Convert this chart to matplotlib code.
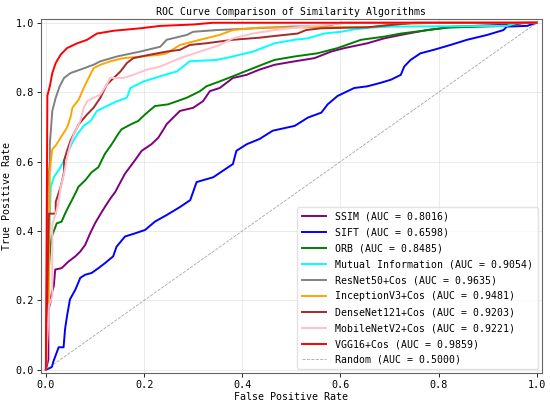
import matplotlib
matplotlib.use("Agg")
import matplotlib.pyplot as plt

plt.rcParams['font.family'] = ['DejaVu Sans Mono']
plt.rcParams['font.size'] = 7

# ---- data ----
ssim_fpr = [0, 0.005, 0.005, 0.009, 0.012, 0.016, 0.019, 0.032, 0.046, 0.06, 0.07, 0.08, 0.09, 0.1, 0.11, 0.12,
            0.131, 0.141, 0.161, 0.181, 0.195, 0.215, 0.229, 0.242, 0.246, 0.273, 0.30, 0.32, 0.334, 0.354, 0.381,
            0.409, 0.435, 0.466, 0.507, 0.547, 0.581, 0.608, 0.655, 0.689, 0.723, 0.776, 0.804, 0.831, 0.95, 0.98, 1.0]
ssim_tpr = [0, 0.03, 0.174, 0.193, 0.222, 0.241, 0.289, 0.293, 0.312, 0.327, 0.341, 0.36, 0.393, 0.422, 0.446, 0.469,
            0.493, 0.512, 0.565, 0.603, 0.631, 0.65, 0.669, 0.698, 0.708, 0.746, 0.755, 0.774, 0.803, 0.812, 0.841,
            0.85, 0.865, 0.879, 0.889, 0.898, 0.917, 0.927, 0.941, 0.955, 0.965, 0.979, 0.984, 0.989, 0.995, 1.0, 1.0]

sift_fpr = [0, 0.012, 0.016, 0.026, 0.036, 0.039, 0.043, 0.049, 0.06, 0.07, 0.08, 0.093, 0.107, 0.12, 0.137, 0.144,
            0.161, 0.181, 0.202, 0.222, 0.246, 0.273, 0.294, 0.307, 0.341, 0.361, 0.381, 0.388, 0.409, 0.435, 0.462,
            0.507, 0.534, 0.561, 0.574, 0.594, 0.628, 0.655, 0.682, 0.703, 0.723, 0.73, 0.743, 0.763, 0.79, 0.824,
            0.858, 0.899, 0.932, 0.939, 0.98, 1.0]
sift_tpr = [0, 0.008, 0.027, 0.065, 0.065, 0.117, 0.155, 0.203, 0.231, 0.265, 0.274, 0.279, 0.293, 0.307, 0.327, 0.355,
            0.384, 0.393, 0.403, 0.427, 0.446, 0.469, 0.489, 0.541, 0.555, 0.574, 0.593, 0.631, 0.65, 0.665, 0.689,
            0.703, 0.727, 0.741, 0.765, 0.789, 0.812, 0.817, 0.827, 0.836, 0.85, 0.874, 0.893, 0.912, 0.922, 0.936,
            0.951, 0.965, 0.979, 0.989, 0.991, 1.0]

orb_fpr = [0, 0.004, 0.009, 0.012, 0.022, 0.032, 0.039, 0.046, 0.053, 0.063, 0.066, 0.08, 0.093, 0.107, 0.12, 0.134,
           0.147, 0.154, 0.174, 0.188, 0.202, 0.222, 0.249, 0.287, 0.314, 0.327, 0.354, 0.381, 0.415, 0.449, 0.466,
           0.507, 0.553, 0.594, 0.642, 0.689, 0.723, 0.763, 0.817, 0.939, 0.97, 1.0]
orb_tpr = [0, 0.25, 0.355, 0.384, 0.422, 0.427, 0.45, 0.47, 0.489, 0.517, 0.527, 0.546, 0.569, 0.584, 0.622, 0.65,
           0.679, 0.693, 0.708, 0.717, 0.736, 0.76, 0.765, 0.784, 0.803, 0.817, 0.831, 0.846, 0.865, 0.884, 0.893,
           0.903, 0.912, 0.927, 0.951, 0.96, 0.969, 0.976, 0.986, 0.991, 1.0, 1.0]

mi_fpr = [0, 0.008, 0.01, 0.016, 0.03, 0.043, 0.054, 0.064, 0.077, 0.091, 0.104, 0.124, 0.145, 0.165, 0.172, 0.199,
          0.233, 0.267, 0.293, 0.348, 0.381, 0.422, 0.466, 0.507, 0.533, 0.567, 0.601, 0.628, 0.662, 0.709, 0.939,
          0.96, 1.0]
mi_tpr = [0, 0.45, 0.527, 0.555, 0.584, 0.622, 0.655, 0.679, 0.703, 0.717, 0.746, 0.76, 0.774, 0.784, 0.812, 0.831,
          0.846, 0.86, 0.889, 0.893, 0.903, 0.917, 0.941, 0.951, 0.955, 0.969, 0.974, 0.981, 0.986, 0.989, 0.991,
          1.0, 1.0]

resnet_fpr = [0, 0.004, 0.008, 0.008, 0.013, 0.02, 0.028, 0.037, 0.05, 0.07, 0.097, 0.111, 0.145, 0.192, 0.233,
              0.246, 0.287, 0.30, 0.348, 0.50, 0.57, 0.60, 1.0]
resnet_tpr = [0, 0.53, 0.6, 0.65, 0.746, 0.784, 0.817, 0.841, 0.855, 0.865, 0.879, 0.889, 0.903, 0.917, 0.931,
              0.951, 0.965, 0.974, 0.979, 0.989, 0.99, 1.0, 1.0]

incep_fpr = [0, 0.006, 0.008, 0.01, 0.013, 0.02, 0.03, 0.043, 0.05, 0.054, 0.067, 0.077, 0.087, 0.097, 0.111, 0.131,
             0.158, 0.233, 0.246, 0.273, 0.314, 0.354, 0.381, 0.435, 0.668, 0.70, 0.80, 1.0]
incep_tpr = [0, 0.23, 0.57, 0.60, 0.636, 0.646, 0.669, 0.698, 0.727, 0.755, 0.779, 0.812, 0.841, 0.869, 0.879, 0.889,
             0.898, 0.908, 0.912, 0.936, 0.951, 0.965, 0.979, 0.986, 0.988, 0.995, 1.0, 1.0]

dense_fpr = [0, 0.006, 0.02, 0.02, 0.026, 0.03, 0.037, 0.037, 0.043, 0.05, 0.057, 0.067, 0.084, 0.097, 0.111, 0.124,
             0.138, 0.152, 0.165, 0.178, 0.212, 0.246, 0.273, 0.293, 0.327, 0.381, 0.435, 0.466, 0.513, 0.53, 0.56,
             0.655, 0.75, 1.0]
dense_tpr = [0, 0.45, 0.45, 0.484, 0.51, 0.527, 0.57, 0.603, 0.631, 0.66, 0.68, 0.708, 0.736, 0.755, 0.784, 0.822,
             0.841, 0.86, 0.884, 0.898, 0.908, 0.917, 0.922, 0.936, 0.941, 0.951, 0.957, 0.962, 0.969, 0.979, 0.984,
             0.987, 1.0, 1.0]

mobile_fpr = [0, 0.006, 0.013, 0.013, 0.02, 0.026, 0.03, 0.037, 0.043, 0.05, 0.057, 0.07, 0.077, 0.084, 0.097, 0.111,
              0.124, 0.131, 0.158, 0.178, 0.206, 0.233, 0.273, 0.314, 0.354, 0.381, 0.422, 0.466, 0.52, 0.62, 1.0]
mobile_tpr = [0, 0.184, 0.212, 0.42, 0.45, 0.484, 0.527, 0.565, 0.612, 0.651, 0.679, 0.717, 0.755, 0.774, 0.784, 0.793,
              0.822, 0.841, 0.841, 0.85, 0.865, 0.874, 0.898, 0.917, 0.936, 0.955, 0.969, 0.979, 0.988, 1.0, 1.0]

vgg_fpr = [0, 0.003, 0.008, 0.013, 0.02, 0.03, 0.043, 0.064, 0.084, 0.104, 0.138, 0.192, 0.233, 0.30, 0.34, 1.0]
vgg_tpr = [0, 0.79, 0.817, 0.855, 0.884, 0.908, 0.927, 0.941, 0.951, 0.969, 0.977, 0.984, 0.991, 0.995, 1.0, 1.0]

names = ["SSIM", "SIFT", "ORB", "Mutual Information", "ResNet50+Cos", "InceptionV3+Cos",
         "DenseNet121+Cos", "MobileNetV2+Cos", "VGG16+Cos"]
aucs = [0.8016, 0.6598, 0.8485, 0.9054, 0.9635, 0.9481, 0.9203, 0.9221, 0.9859]
colors = ["purple", "blue", "green", "cyan", "gray", "orange", "brown", "pink", "red"]
curves = [(ssim_fpr, ssim_tpr), (sift_fpr, sift_tpr), (orb_fpr, orb_tpr), (mi_fpr, mi_tpr),
          (resnet_fpr, resnet_tpr), (incep_fpr, incep_tpr), (dense_fpr, dense_tpr),
          (mobile_fpr, mobile_tpr), (vgg_fpr, vgg_tpr)]

fig = plt.figure(figsize=(5.5, 4.04), dpi=100)
ax = fig.add_axes([41 / 550, (404 - 373.3) / 404, 500.7 / 550, 354 / 404])

for (fx, ty), name, auc, c in zip(curves, names, aucs, colors):
    ax.plot(fx, ty, color=c, lw=1.4, label=f"{name} (AUC = {auc:.4f})")
ax.plot([0, 1], [0, 1], color="gray", ls="--", lw=0.6, alpha=0.7, label="Random (AUC = 0.5000)")

ax.set_xlim(-0.01, 1.01)
ax.set_ylim(-0.01, 1.01)
ax.grid(True, color="#dddddd", lw=0.6, alpha=0.7)
for s in ax.spines.values():
    s.set_color("#666666")
    s.set_linewidth(0.8)
ax.tick_params(length=3, width=0.6, pad=2, labelsize=7.3)
ax.set_xlabel("False Positive Rate", fontsize=7.2, labelpad=1)
ax.set_ylabel("True Positive Rate", fontsize=7.2, labelpad=3)
ax.set_title("ROC Curve Comparison of Similarity Algorithms", fontsize=7.1, pad=3)
ax.legend(loc="lower right", fontsize=7.1, handlelength=2.5, handletextpad=0.9, labelspacing=0.6,
          borderaxespad=0.4, borderpad=0.45, framealpha=0.8, edgecolor="#dddddd")

fig.savefig("out.png", dpi=100)
